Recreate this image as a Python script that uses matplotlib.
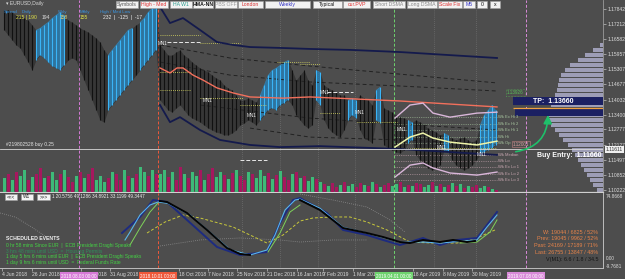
import numpy as np
import matplotlib
matplotlib.use('Agg')
import matplotlib.pyplot as plt
from matplotlib.patches import Rectangle
import matplotlib.transforms as mtrans

plt.rcParams['font.family'] = ['Liberation Sans', 'DejaVu Sans']

BG = '#4d4d4d'
nan = np.nan

# ---------------- price bars (EURUSD daily, every 2nd bar) ----------------
bar_hi = [1.1780, 1.1780, 1.1771, 1.1759, 1.1759, 1.1746, 1.1738, 1.1717, 1.1696, 1.1704,
          1.1717, 1.1729, 1.1746, 1.1759, 1.1771, 1.1759, 1.1738, 1.1729, 1.1717, 1.1704,
          1.1696, 1.1687, 1.1675, 1.1662, 1.1645, 1.1612, 1.1590, 1.1612, 1.1633, 1.1654,
          1.1675, 1.1696, 1.1704, 1.1717, 1.1729, 1.1746, 1.1771, 1.1788, 1.1801,
          1.1633, 1.1612, 1.1590, 1.1590, 1.1603, 1.1612, 1.1590, 1.1578, 1.1561, 1.1548,
          1.1536, 1.1527, 1.1519, 1.1506, 1.1494, 1.1485, 1.1464, 1.1452, 1.1443, 1.1422,
          1.1401, 1.1401, 1.1409, 1.1401, 1.1393,
          1.1422, 1.1464, 1.1506, 1.1527, 1.1536, 1.1548, 1.1561, 1.1569,
          1.1527, 1.1485, 1.1506, 1.1527, 1.1485, 1.1464,
          1.1527, 1.1519,
          1.1464, 1.1452, 1.1443, 1.1435, 1.1422, 1.1422,
          1.1401, 1.1409, 1.1401,
          1.1422, 1.1409, 1.1401, 1.1380,
          1.1443, 1.1456,
          1.1367, 1.1359, 1.1350, 1.1338, 1.1329, 1.1325,
          1.1317, 1.1308,
          1.1317, 1.1308, 1.1296, 1.1283, 1.1275, 1.1266, 1.1254,
          1.1262, 1.1254,
          1.1241, 1.1233, 1.1241, 1.1245, 1.1233, 1.1224, 1.1233,
          1.1296, 1.1338, 1.1359, 1.1380, 1.1359]
bar_lo = [1.1696, 1.1675, 1.1654, 1.1633, 1.1620, 1.1590, 1.1561, 1.1527, 1.1569, 1.1590,
          1.1578, 1.1561, 1.1544, 1.1536, 1.1527, 1.1548, 1.1569, 1.1578, 1.1569, 1.1527,
          1.1485, 1.1443, 1.1401, 1.1359, 1.1317, 1.1308, 1.1359, 1.1380, 1.1401, 1.1422,
          1.1443, 1.1464, 1.1485, 1.1506, 1.1527, 1.1548, 1.1569, 1.1590, 1.1612,
          1.1401, 1.1380, 1.1359, 1.1350, 1.1367, 1.1380, 1.1359, 1.1338, 1.1325, 1.1317,
          1.1308, 1.1296, 1.1283, 1.1275, 1.1266, 1.1262, 1.1254, 1.1254, 1.1262, 1.1275,
          1.1296, 1.1304, 1.1317, 1.1308, 1.1296,
          1.1317, 1.1338, 1.1359, 1.1367, 1.1359, 1.1380, 1.1388, 1.1401,
          1.1380, 1.1338, 1.1317, 1.1296, 1.1283, 1.1296,
          1.1401, 1.1380,
          1.1317, 1.1283, 1.1266, 1.1254, 1.1245, 1.1275,
          1.1317, 1.1338, 1.1325,
          1.1275, 1.1241, 1.1233, 1.1220,
          1.1317, 1.1304,
          1.1212, 1.1199, 1.1191, 1.1182, 1.1178, 1.1191,
          1.1220, 1.1233,
          1.1170, 1.1148, 1.1127, 1.1115, 1.1106, 1.1115, 1.1127,
          1.1191, 1.1182,
          1.1148, 1.1127, 1.1115, 1.1106, 1.1115, 1.1127, 1.1148,
          1.1170, 1.1182, 1.1191, 1.1199, 1.1212]
bar_col = ("kkkkkkkkbbbbbbbbkkkkkkkkkkbbbbbbbkbbbbb"
           "kkkkkkkkkkkkkkkkkkkkkkkkk" "bbbbbbbb" "kkkkkk" "bb" "kkkkkk" "bbb"
           "kkkk" "bb" "kkkkkk" "bb" "kkkkkkk" "bb" "kkkkkkk" "bbbbb")
bar_x = np.arange(2, 2 + 2 * len(bar_hi), 2)

vol = [14, 18, 12, 20, 16, 22, 12, 15, 18, 24, 14, 16, 20, 12, 18, 22, 15, 10, 16, 20,
       14, 18, 24, 12, 16, 10, 14, 20, 18, 12, 22, 16, 14, 18, 25, 20, 16, 22, 18,
       18, 22, 15, 20, 12, 25, 18, 14, 20, 16, 22, 12, 18, 24, 15, 20, 17, 13, 19, 22,
       16, 12, 20, 18, 14, 22, 16, 19, 13, 17, 21, 15, 12, 18, 20, 14, 16, 11, 15, 13, 10,
       8, 6, 9, 5, 7, 10, 6, 8, 5, 9, 7, 6, 10, 8, 5, 7, 9, 6, 8, 10, 5, 7, 6, 9, 8, 5,
       7, 10, 6, 8, 5, 7, 9, 6, 8, 4, 6, 5, 7, 4, 6, 5, 3, 2]
vol_col = ("gmgmggmgmm" "gmggmgmmgm" "gmmgggmgmm" "gmgmggmgm"
           "ggmgmmgmgg" "mgmmggmgmg" "mmgmgggmgm" "gmmgmgmggm" "gmgmmgmggm"
           "mgmgmgmmgg" "mgmgmmggmg" "mgmgmgmgmm" "ggmgm")

# ---------------- overlay lines on price ----------------
ma_x = [80, 85, 88.5, 91.5, 96.5, 101.5, 108.5, 116.5, 125, 141.5, 155, 200, 248.5]
ma_p = [1.1536, 1.1515, 1.1536, 1.1536, 1.1506, 1.1485, 1.1452, 1.1431, 1.1414, 1.1409,
        1.1414, 1.1397, 1.1372]
up_x = [80, 85, 91.5, 100, 108.5, 116.5, 125, 141.5, 155, 175, 200, 225, 248.5]
up_p = [1.1793, 1.1725, 1.1746, 1.1696, 1.1645, 1.1633, 1.1624, 1.1620, 1.1616, 1.1612,
        1.1603, 1.1590, 1.1578]
dn_x = [80, 85, 90, 100, 110, 125, 140, 160, 200, 248.5]
dn_p = [1.1380, 1.1308, 1.1329, 1.1275, 1.1233, 1.1212, 1.1203, 1.1207, 1.1195, 1.1170]
dash_lines = [
    ([80, 115, 155, 200, 248.5], [1.1633, 1.1578, 1.1544, 1.1510, 1.1473]),
    ([80, 115, 155, 200, 248.5], [1.1561, 1.1506, 1.1477, 1.1460, 1.1439]),
    ([100, 155, 200, 248.5], [1.1380, 1.1325, 1.1300, 1.1275]),
    ([125, 155, 200, 248.5], [1.1283, 1.1245, 1.1233, 1.1216]),
]
env_x = [197.5, 205, 211.5, 216.5, 225, 238.5, 248.5]
env_hi = [1.1325, 1.1380, 1.1388, 1.1346, 1.1329, 1.1346, 1.1350]
env_mid = [1.1203, 1.1245, 1.1262, 1.1241, 1.1224, 1.1212, 1.1228]
env_lo = [1.1077, 1.1127, 1.1136, 1.1115, 1.1094, 1.1085, 1.1098]

seg_start = [80, 83.5, 100, 80, 80, 100, 120, 120, 138.5, 150, 163.5, 160, 178.5, 198.5]
seg_end = [100, 100, 120, 95, 95, 121.5, 133.5, 133.5, 155, 160, 176.5, 170, 198.5, 248.5]
seg_price = [1.1675, 1.1645, 1.1641, 1.1519, 1.1443, 1.1409, 1.1380, 1.1148, 1.1561,
             1.1553, 1.1435, 1.1346, 1.1308, 1.1199]
seg_kind = "ywyyyyywyywyyy"

mn_x = [79, 101.5, 123.5, 160, 177.5, 198.5, 218.5, 238.5]
mn_p = [1.1641, 1.1401, 1.1334, 1.1431, 1.1350, 1.1275, 1.1203, 1.1170]

wk_labels = ['Wk Ex Hi 3', 'Wk Ex Hi 2', 'Wk Ex Hi 1', 'Wk Hi', 'Wk Op',
             'Wk Median', 'Wk Lo', 'Wk Ex Lo 1', 'Wk Ex Lo 2', 'Wk Ex Lo 3']
wk_prices = [1.1329, 1.1300, 1.1275, 1.1245, 1.1220, 1.1170, 1.1144, 1.1119, 1.1089, 1.1064]

prof_price = [1.1633, 1.1612, 1.1590, 1.1569, 1.1548, 1.1527, 1.1506, 1.1485, 1.1464, 1.1443,
              1.1422, 1.1401, 1.1380, 1.1359, 1.1338, 1.1317, 1.1296, 1.1275, 1.1254, 1.1233,
              1.1212, 1.1191, 1.1170, 1.1148, 1.1127, 1.1106, 1.1085, 1.1064, 1.1043, 1.1022]
prof_vol = [3, 10, 18, 25, 33, 38, 42, 44, 45, 46, 48, 50, 52, 55, 56, 55, 52, 48, 44, 40,
            35, 31, 28, 25, 22, 19, 16, 13, 10, 6]
hvn_price = [1.1397, 1.1350]
hvn_vol = [90, 88]

tp_price = 1.1366
entry_price = 1.1166
order_price = 1.1195

price_ticks = [1.17842, 1.17212, 1.16582, 1.15957, 1.15307, 1.14677, 1.14032, 1.13400,
               1.12777, 1.12127, 1.11497, 1.10852, 1.10222]

# ---------------- oscillator panel ----------------
navy_x = [61, 70, 76.5, 83.5, 93.5, 108.5, 120, 133.5, 140, 146.5, 150, 163.5, 171.5,
          183.5, 191.5, 200, 211.5, 220, 228.5, 238.5, 248.5]
navy_v = [30.1, 49.5, 70.0, 67.6, 45.9, 13.2, 3.5, 7.2, 42.2, 70.0, 72.4, 54.3, 33.8,
          27.7, 21.7, 15.6, 24.1, 15.6, 21.7, 24.1, 55.5]
cyan_x = [62.5, 65, 70, 75, 79, 84, 95, 105, 115, 125, 133.5, 137.5, 142.5, 147.5, 150,
          160, 171.5, 183.5, 200, 211.5, 220, 238.5, 243.5, 248.5]
cyan_v = [21.7, 31.3, 51.9, 64.0, 67.6, 66.0, 52.0, 31.0, 10.0, 3.5, 9.6, 27.7, 57.9, 70.0,
          71.2, 60.0, 37.0, 30.0, 19.0, 19.2, 18.0, 21.7, 37.4, 51.9]
green_x = [65, 70, 75, 79, 100, 134, 140, 145, 150, 190, 230, 238.5, 245, 248.5]
green_v = [15.6, 36.2, 55.5, 66.4, nan, 7.2, 30.1, 55.5, 64.0, nan, 18.0, 19.2, 31.3, 45.9]
black_x = [80, 83.5, 93.5, 103.5, 113.5, 120, 125, 137, 150, 160, 171.5, 183.5, 191.5,
           200, 205, 211.5, 220, 226.5, 233.5, 237.5]
black_v = [68.8, 67.6, 54.3, 33.8, 12.0, 4.8, 3.5, nan, 70.0, 57.9, 36.2, 30.1, 25.3,
           19.2, 18.0, 21.7, 19.2, 21.7, 19.2, 20.5]
yel_x = [73.5, 82.5, 91.5, 100, 116.5, 133.5, 141.5, 150, 156.5, 166.5, 175, 183.5, 193.5,
         205, 216.5, 228.5, 238.5, 247.5]
yel_v = [30.1, 43.4, 51.9, 48.3, 37.4, 18.0, 27.7, 44.6, 48.3, 49.5, 49.5, 43.4, 33.8,
         19.2, 18.0, 18.0, 24.1, 33.8]
gray_lines = [
    ([0, 7.5, 15, 22.5], [54.3, 49.5, 38.6, 26.5]),
    ([80, 100, 120, 140, 150, 166.5, 183.5], [14.4, 21.7, 24.1, 21.7, 19.2, 21.7, 21.7]),
    ([150, 166.5, 183.5, 195, 202.5], [77.3, 70.0, 61.6, 45.9, 31.3]),
]

date_bars = [1, 16, 40.5, 55, 89.5, 104, 118.5, 133.5, 148.5, 161.5, 176.5, 206.5, 221.5, 236]
date_labels = ['4 Jun 2018', '26 Jun 2018', '9 Aug 2018', '31 Aug 2018', '18 Oct 2018',
               '7 Nov 2018', '25 Nov 2018', '21 Dec 2018', '16 Jan 2019', '7 Feb 2019',
               '1 Mar 2019', '18 Apr 2019', '8 May 2019', '30 May 2019']
event_bars = [39.5, 79, 197, 263]
event_labels = ['2018.08.03 00:00', '2018.10.01 00:00', '2019.04.01 00:00', '2019.07.08 00:00']
event_colors = ['#d77ad7', '#f0583a', '#6fd36f', '#d98ad9']
grid_bars = [121, 140, 159, 177.5, 217, 238]

# ================= drawing =================
fig = plt.figure(figsize=(6.25, 2.79), dpi=100, facecolor=BG)
ax = fig.add_axes([0, 87 / 279, 603 / 625, 192 / 279], facecolor=BG)
axv = fig.add_axes([0, 87 / 279, 603 / 625, 30 / 279])
axv.patch.set_alpha(0)
axo = fig.add_axes([0, 11 / 279, 603 / 625, 75 / 279], facecolor=BG)

XMAX = 301.5
for a in (ax, axv, axo):
    a.set_xlim(0, XMAX)
ax.set_ylim(1.1014, 1.1822)
axv.set_ylim(0, 30)
axo.set_ylim(-12.2, 78.5)

# grid / event verticals
for gb in grid_bars:
    ax.axvline(gb, color='#7c7c7c', lw=0.5, ls=(0, (1, 2)), zorder=1)
    axo.axvline(gb, color='#7c7c7c', lw=0.5, ls=(0, (1, 2)), zorder=1)
for eb, ec in zip(event_bars, event_colors):
    for a in (ax, axo):
        a.axvline(eb, color=ec, lw=0.7, ls=(0, (3, 2)), zorder=2)

# volume profile and HVN zone
pv = np.array(prof_vol) * 0.5
ax.barh(prof_price, pv, left=XMAX - pv, height=0.0018, color='#a7a7c2', alpha=0.9,
        lw=0, zorder=1)
hv = np.array(hvn_vol) * 0.5
ax.barh(hvn_price, hv, left=XMAX - hv, height=0.0034, color='#1b2062', lw=0, zorder=2)
ax.hlines(tp_price, XMAX - hv[0], XMAX, color='#f0a040', lw=0.9, zorder=3)

# candles
hi = np.array(bar_hi)
lo = np.array(bar_lo)
is_blue = np.array([c == 'b' for c in bar_col])
ax.fill_between(bar_x, lo, hi, color='#1a1a1a', alpha=0.45, lw=0, zorder=2)
ax.fill_between(bar_x, lo, hi, where=is_blue, color='#2a9fe6', alpha=0.6, lw=0, zorder=3)
ax.vlines(bar_x, lo, hi, colors=['#3ab4f7' if b else '#111111' for b in is_blue],
          lw=0.8, zorder=4)

# overlay lines
for xs, ps in dash_lines:
    ax.plot(xs, ps, color='#222222', lw=0.7, ls=(0, (4, 3)), zorder=3)
ax.plot(up_x, up_p, color='#141a4c', lw=1.3, zorder=5)
ax.plot(dn_x, dn_p, color='#141a4c', lw=1.3, zorder=5)
ax.plot(ma_x, ma_p, color='#f2705c', lw=1.0, zorder=5)
ax.plot(env_x, env_hi, color='#d9b6d9', lw=1.0, zorder=5)
ax.plot(env_x, env_lo, color='#d9b6d9', lw=1.0, zorder=5)
ax.plot(env_x, env_mid, color='#eef4a8', lw=1.1, zorder=5)

for s, e, p, k in zip(seg_start, seg_end, seg_price, seg_kind):
    if k == 'y':
        ax.hlines(p, s, e, color='#d8d860', lw=0.6, ls=(0, (1, 1.5)), zorder=4)
    else:
        ax.hlines(p, s, e, color='#e8e8e8', lw=0.7, ls=(0, (4, 2)), zorder=4)
for mx, mp in zip(mn_x, mn_p):
    ax.text(mx, mp, 'MN1', color='#f0f0f0', fontsize=3.3, va='center', zorder=6)

for i, (lab, p) in enumerate(zip(wk_labels, wk_prices)):
    c = '#a9c7a0' if i < 5 else '#caa8b2'
    ax.hlines(p, 197, 248.5, color=c, lw=0.4, ls=(0, (2, 2)), zorder=3)
    ax.text(249, p, lab, color=c, fontsize=3.0, va='center', zorder=6)

ax.axhline(order_price, color='#d8d8d8', lw=0.6, zorder=6)
ax.text(3, order_price + 0.0009, '#219802528 buy 0.25', color='#e6e6e6', fontsize=3.5,
        va='bottom', zorder=7)

ax.text(266.5, 1.1393, 'TP:  1.13660', color='white', fontsize=5, fontweight='bold',
        va='center', zorder=7)
ax.text(268.5, entry_price, 'Buy Entry:  1.11660', color='white', fontsize=5,
        fontweight='bold', va='center', zorder=7)
ax.text(253.5, 1.1431, '1.13926', color='#58c058', fontsize=3.3, va='center', zorder=7,
        bbox=dict(boxstyle='square,pad=0.2', fc='none', ec='#58c058', lw=0.4, ls=':'))
ax.text(256.5, 1.1216, '1.12001', color='#d9a0a0', fontsize=3.3, va='center', zorder=7,
        bbox=dict(boxstyle='square,pad=0.2', fc='none', ec='#c08080', lw=0.4))
ax.annotate('', xy=(274, 1.1350), xytext=(256.5, 1.1182), zorder=8,
            arrowprops=dict(arrowstyle='-|>,head_length=0.5,head_width=0.25',
                            color='#1fbf6a', lw=1.2, connectionstyle='arc3,rad=0.45'))

# volume
axv.bar(bar_x, vol, width=1.5, color=['#3dba78' if c == 'g' else '#a6175e' for c in vol_col],
        lw=0)

# axes cosmetics
for a in (ax, axv, axo):
    for sp in a.spines.values():
        sp.set_visible(False)
ax.spines['bottom'].set_visible(True)
ax.spines['bottom'].set_color('#d0d0d0')
ax.spines['bottom'].set_linewidth(0.9)
ax.spines['right'].set_visible(True)
ax.spines['right'].set_color('#9a9a9a')
ax.spines['right'].set_linewidth(0.6)
ax.set_xticks([])
ax.yaxis.tick_right()
ax.set_yticks(price_ticks)
ax.set_yticklabels([f'{t:.5f}' for t in price_ticks])
ax.tick_params(axis='y', length=2, width=0.4, pad=1, labelsize=3.6, colors='#dcdcdc')
axv.set_xticks([])
axv.set_yticks([])

axo.spines['right'].set_visible(True)
axo.spines['bottom'].set_visible(True)
for s in ('right', 'bottom'):
    axo.spines[s].set_color('#bdbdbd')
    axo.spines[s].set_linewidth(0.7)
axo.yaxis.tick_right()
axo.set_yticks([74.8668, 0, -9.7681])
axo.set_yticklabels(['74.8668', '0.00', '-9.7681'])
axo.tick_params(axis='y', length=0, pad=2, labelsize=3.4, colors='#dcdcdc')
axo.set_xticks(date_bars)
axo.set_xticklabels(date_labels)
axo.tick_params(axis='x', length=2, width=0.4, pad=1.2, labelsize=3.6, colors='#dcdcdc')
for lbl in axo.get_xticklabels():
    lbl.set_ha('left')

# oscillator lines
for xs, vs in gray_lines:
    axo.plot(xs, vs, color='#8c8c8c', lw=0.6, ls=(0, (1, 1.5)))
axo.plot(yel_x, yel_v, color='#c8c83c', lw=0.7, ls=(0, (3, 2)))
axo.plot(navy_x, navy_v, color='#1d2b80', lw=1.4)
axo.plot(cyan_x, cyan_v, color='#5ab6ea', lw=0.8)
axo.plot(green_x, green_v, color='#7fd35a', lw=0.7)
axo.plot(black_x, black_v, color='#050505', lw=1.4)

# event date boxes
tr = mtrans.blended_transform_factory(axo.transData, axo.transAxes)
for eb, el, ec in zip(event_bars, event_labels, event_colors):
    axo.text(eb, -0.075, el, transform=tr, ha='center', va='top', fontsize=3.3,
             color='white', zorder=10, clip_on=False,
             bbox=dict(boxstyle='square,pad=0.25', fc=ec, ec='none'))

# ---------------- UI overlay (pixel layout) ----------------
ui = fig.add_axes([0, 0, 1, 1])
ui.set_xlim(0, 625)
ui.set_ylim(279, 0)
ui.axis('off')
ui.patch.set_alpha(0)

buttons = [('Symbols', '#555555', 116, 138), ('High - Med', '#e03030', 140, 168),
           ('HA W1', '#2a9d8f', 170, 192), ('HMA-NN', '#111111', 193, 213),
           ('PBS OFF', '#9a9a9a', 215, 237), ('London', '#d83030', 238, 263),
           ('Weekly', '#3535c8', 265, 310), ('Typical', '#111111', 313, 342),
           ('cur.PVP', '#e03030', 343, 370), ('Short DSMA', '#8a8a8a', 373, 405),
           ('Long DSMA', '#8a8a8a', 407, 437), ('Scale Fix', '#e03030', 438, 462),
           ('M5', '#3535c8', 463, 475), ('0', '#111111', 477, 487), ('x', '#111111', 490, 500)]
for lab, col, x0, x1 in buttons:
    ui.add_patch(Rectangle((x0, 1), x1 - x0, 6.5, fc='#f2f2f2', ec='#a0a0a0', lw=0.4))
    ui.text((x0 + x1) / 2, 4.4, lab, color=col, fontsize=3.7, ha='center', va='center',
            fontweight='bold' if lab == 'HMA-NN' else 'normal')

ui.text(6, 4, '\u25be EURUSD,Daily', color='#d8d8d8', fontsize=3.6, va='center')
for x0, t in [(4, 'Spread'), (22, 'Daily'), (58, 'Wkly'), (80, 'Mthly'), (100, 'High / Med Low')]:
    ui.text(x0, 12.5, t, color='#3a93dc', fontsize=3.2, va='center')
for x0, t, c in [(16, '215 | 190', '#e3e34a'), (42, '194', '#dcdcdc'), (60, '158', '#e0d070'),
                 (80, '155', '#e3e34a'), (103, '232  |  -125  |  -17', '#eeeeee')]:
    ui.text(x0, 17.5, t, color=c, fontsize=3.6, va='center')

for lab, x0, x1 in [('<<<', 5, 17), ('W1', 21, 33), ('>>>', 37, 50)]:
    ui.add_patch(Rectangle((x0, 193.5), x1 - x0, 6, fc='#f4f4f4', ec='#999999', lw=0.4))
    ui.text((x0 + x1) / 2, 196.6, lab, color='#222222', fontsize=3.4, ha='center', va='center')
ui.text(52, 196.6, '1 20.5756 49.1286 34.8921 33.1199 49.3447', color='#eeeeee',
        fontsize=3.3, va='center')

ui.text(6, 238, 'SCHEDULED EVENTS', color='#f0f0f0', fontsize=3.7, fontweight='bold',
        va='center')
events = [('0 hr 58 mins Since EUR  |  ECB President Draghi Speaks', '#44d244'),
          ('3 hrs 48 mins until USD  =  Housing Permits', '#2f8f5a'),
          ('1 day 5 hrs 6 mins until EUR  |  ECB President Draghi Speaks', '#44d244'),
          ('1 day 9 hrs 6 mins until USD  =  Federal Funds Rate', '#44d244')]
for i, (t, c) in enumerate(events):
    ui.text(6, 245.5 + i * 5.7, t, color=c, fontsize=3.5, va='center')

stats = [('W: 19044 / 6825 / 52%', '#e8844a'), ('Prev: 19045 / 9962 / 52%', '#e8844a'),
         ('Past: 24169 / 17189 / 71%', '#e8844a'), ('Last: 26755 / 13847 / 48%', '#e8844a'),
         ('V(M1): 6.6 / 1.8 / 34.5', '#151515')]
for i, (t, c) in enumerate(stats):
    ui.text(598, 232 + i * 6.8, t, color=c, fontsize=3.9, ha='right', va='center')

ui.text(606, 149.5, '1.11611', color='#333333', fontsize=3.6, va='center',
        bbox=dict(boxstyle='square,pad=0.2', fc='#f0f0f0', ec='none'))

fig.savefig('out.png', dpi=100, facecolor=BG)
